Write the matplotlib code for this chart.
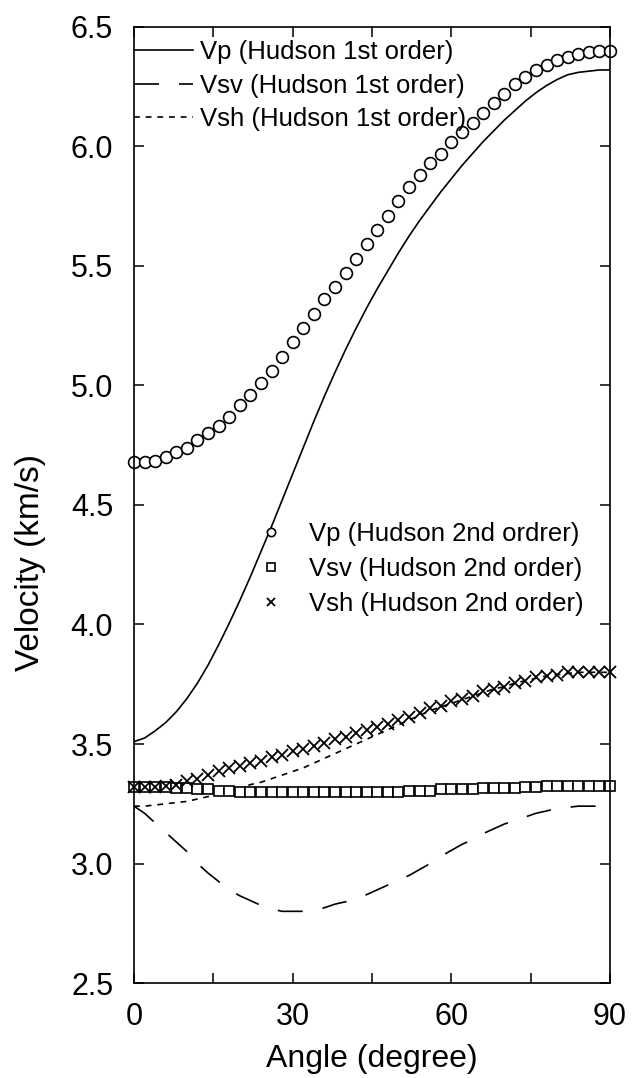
import numpy as np
import matplotlib
matplotlib.use('Agg')
import matplotlib.pyplot as plt

plt.rcParams['font.family'] = ['Liberation Sans', 'DejaVu Sans']

# angles (degree), every 2 degrees
angle = np.arange(0, 92, 2)

# Hudson 1st order (lines)
vp_1st = [3.51, 3.525, 3.555, 3.59, 3.635, 3.69, 3.755, 3.83, 3.915, 4.005,
          4.10, 4.20, 4.305, 4.41, 4.52, 4.63, 4.74, 4.85, 4.955, 5.055,
          5.15, 5.24, 5.325, 5.405, 5.48, 5.555, 5.625, 5.69, 5.75, 5.81,
          5.865, 5.92, 5.97, 6.02, 6.065, 6.11, 6.15, 6.19, 6.225, 6.255,
          6.28, 6.30, 6.31, 6.315, 6.32, 6.32]
vsv_1st = [3.24, 3.21, 3.17, 3.13, 3.09, 3.05, 3.00, 2.96, 2.925, 2.89,
           2.865, 2.845, 2.825, 2.81, 2.80, 2.80, 2.80, 2.805, 2.815, 2.83,
           2.84, 2.855, 2.87, 2.89, 2.91, 2.93, 2.95, 2.975, 3.00, 3.03,
           3.055, 3.08, 3.10, 3.125, 3.145, 3.165, 3.18, 3.195, 3.21, 3.22,
           3.23, 3.235, 3.24, 3.24, 3.24, 3.24]
vsh_1st = [3.24, 3.24, 3.245, 3.25, 3.255, 3.26, 3.27, 3.28, 3.29, 3.30,
           3.315, 3.33, 3.34, 3.355, 3.37, 3.385, 3.40, 3.42, 3.44, 3.46,
           3.48, 3.50, 3.52, 3.54, 3.56, 3.58, 3.60, 3.62, 3.64, 3.655,
           3.67, 3.685, 3.70, 3.715, 3.73, 3.74, 3.755, 3.765, 3.775, 3.785,
           3.79, 3.795, 3.80, 3.80, 3.80, 3.80]

# Hudson 2nd order (markers)
vp_2nd = [4.68, 4.68, 4.685, 4.70, 4.72, 4.74, 4.77, 4.80, 4.83, 4.87,
          4.92, 4.96, 5.01, 5.06, 5.12, 5.18, 5.24, 5.30, 5.36, 5.41,
          5.47, 5.53, 5.59, 5.65, 5.71, 5.77, 5.83, 5.88, 5.93, 5.97,
          6.02, 6.06, 6.10, 6.14, 6.18, 6.22, 6.26, 6.29, 6.32, 6.34,
          6.36, 6.375, 6.385, 6.395, 6.40, 6.40]
vsv_2nd = [3.32, 3.32, 3.32, 3.32, 3.315, 3.315, 3.31, 3.31, 3.305, 3.305,
           3.30, 3.30, 3.30, 3.30, 3.30, 3.30, 3.30, 3.30, 3.30, 3.30,
           3.30, 3.30, 3.30, 3.30, 3.30, 3.30, 3.305, 3.305, 3.305, 3.31,
           3.31, 3.31, 3.31, 3.315, 3.315, 3.315, 3.315, 3.32, 3.32, 3.325,
           3.325, 3.325, 3.325, 3.325, 3.325, 3.325]
vsh_2nd = [3.32, 3.32, 3.32, 3.325, 3.33, 3.345, 3.355, 3.37, 3.385, 3.40,
           3.41, 3.42, 3.43, 3.445, 3.455, 3.47, 3.48, 3.49, 3.505, 3.52,
           3.53, 3.545, 3.56, 3.57, 3.585, 3.60, 3.615, 3.63, 3.65, 3.66,
           3.68, 3.69, 3.70, 3.72, 3.73, 3.74, 3.755, 3.765, 3.78, 3.785,
           3.79, 3.80, 3.80, 3.80, 3.80, 3.80]

fig = plt.figure(figsize=(6.33, 10.78), dpi=100)
ax = fig.add_axes([0.2117, 0.0881, 0.752, 0.8869])

# lines
l1, = ax.plot(angle, vp_1st, color='black', lw=1.2)
l2, = ax.plot(angle, vsv_1st, color='black', lw=1.2, dashes=(15, 12))
l3, = ax.plot(angle, vsh_1st, color='black', lw=1.2, dashes=(3.5, 3.5))

# markers
m1, = ax.plot(angle, vp_2nd, ls='none', marker='o', ms=8.5, mfc='white',
              mec='black', mew=1.2, clip_on=False)
m2, = ax.plot(angle, vsv_2nd, ls='none', marker='s', ms=7.8, mfc='white',
              mec='black', mew=1.2, clip_on=False)
m3, = ax.plot(angle, vsh_2nd, ls='none', marker='x', ms=8.5,
              mec='black', mew=1.3, clip_on=False)

ax.set_xlim(0, 90)
ax.set_ylim(2.5, 6.5)
ax.set_xticks([0, 30, 60, 90])
ax.set_xticks([15, 45, 75], minor=True)
ax.set_yticks(np.arange(2.5, 6.51, 0.5))
ax.set_yticklabels(['%.1f' % v for v in np.arange(2.5, 6.51, 0.5)])
ax.tick_params(axis='both', which='both', direction='in', top=True,
               right=True, length=7, width=1.1, labelsize=22)
ax.tick_params(axis='y', pad=15)
ax.tick_params(axis='x', pad=14)
for s in ax.spines.values():
    s.set_linewidth(1.2)

ax.set_xlabel('Angle (degree)', fontsize=23, labelpad=8)
ax.set_ylabel('Velocity (km/s)', fontsize=24)
ax.yaxis.set_label_coords(-0.185, 0.44)

leg1 = ax.legend([l1, l2, l3],
                 ['Vp (Hudson 1st order)', 'Vsv (Hudson 1st order)',
                  'Vsh (Hudson 1st order)'],
                 loc='upper left', bbox_to_anchor=(0.0, 0.986),
                 frameon=False, fontsize=18.5, handlelength=2.3,
                 handletextpad=0.25, labelspacing=0.36, borderpad=0,
                 borderaxespad=0)
ax.add_artist(leg1)
ax.legend([m1, m2, m3],
          ['Vp (Hudson 2nd ordrer)', 'Vsv (Hudson 2nd order)',
           'Vsh (Hudson 2nd order)'],
          loc='upper left', bbox_to_anchor=(0.26, 0.482),
          frameon=False, fontsize=18.5, handlelength=1.0, markerscale=0.7,
          handletextpad=1.0, labelspacing=0.42, borderpad=0,
          borderaxespad=0)

fig.savefig('out.png', dpi=100)
